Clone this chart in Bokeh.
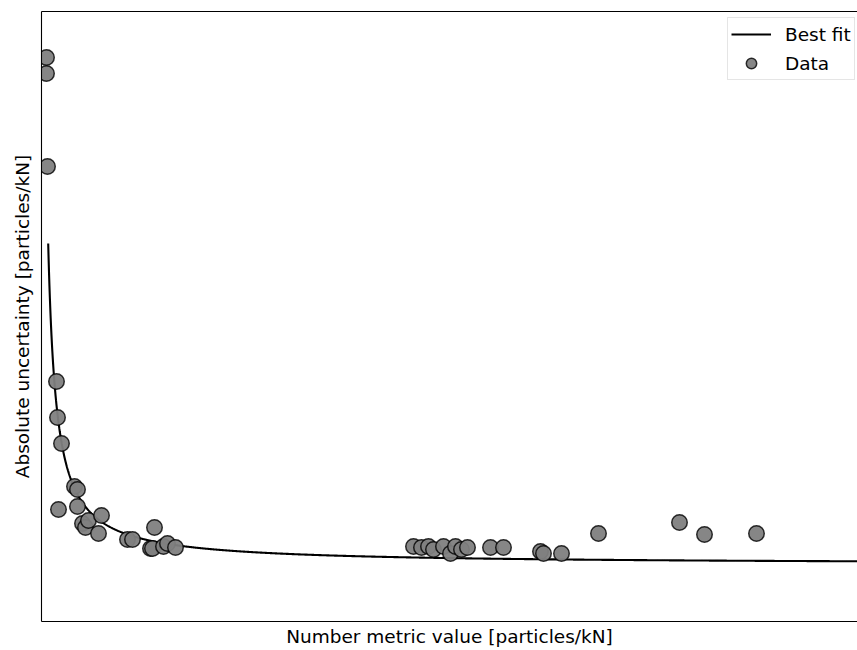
import numpy as np
from bokeh.plotting import figure
from bokeh.models import Range1d, LinearAxis, FixedTicker, Legend, LegendItem, ColumnDataSource
from bokeh.embed import file_html
from bokeh.resources import INLINE

# Data (arbitrary units; the chart shows no tick values)
metric_value = [5, 5, 6, 15, 16, 20, 17, 33, 36, 36, 41, 44, 47, 57, 60, 86, 91, 113, 109, 111, 122, 126, 134,
                372, 380, 387, 392, 402, 409, 414, 420, 426, 449, 462, 499, 502, 520,
                557, 638, 663, 715]
abs_uncertainty = [564, 548, 455, 240, 204, 178, 112, 135, 132, 115, 98, 94, 101, 88, 106, 82, 82, 94, 73, 73, 75, 78, 74,
                   75, 74, 75, 72, 75, 68, 75, 72, 74, 74, 74, 70, 68, 68,
                   88, 99, 87, 88]

# Best-fit model parameters: y = c + a / (x + b)
fit_a = 2626.0
fit_b = 1.48
fit_c = 57.0
fit_x_start = 6.7
fit_x_end = 830.0

fit_x = np.linspace(fit_x_start, fit_x_end, 2000)
fit_y = fit_c + fit_a / (fit_x + fit_b)

FONT = "DejaVu Sans"
FSIZE = "18.5px"

p = figure(width=857, height=650, output_backend="svg", toolbar_location=None,
           x_range=Range1d(0, 816), y_range=Range1d(0, 610),
           x_axis_location=None, y_axis_location=None,
           min_border_left=41, min_border_top=11, min_border_bottom=29, min_border_right=0)
p.outline_line_color = None
p.xgrid.visible = False
p.ygrid.visible = False
p.background_fill_color = "white"
p.border_fill_color = "white"

def make_axis(label=None):
    ax = LinearAxis(ticker=FixedTicker(ticks=[]))
    ax.major_tick_out = 0
    ax.major_tick_in = 0
    ax.minor_tick_out = 0
    ax.minor_tick_in = 0
    ax.major_label_text_font_size = "0px"
    ax.axis_line_color = "black"
    ax.axis_line_width = 1.1
    if label:
        ax.axis_label = label
        ax.axis_label_text_font = FONT
        ax.axis_label_text_font_style = "normal"
        ax.axis_label_text_font_size = FSIZE
        ax.axis_label_text_color = "black"
    return ax

left = make_axis("Absolute uncertainty [particles/kN]")
left.axis_label_standoff = 9
below = make_axis("Number metric value [particles/kN]")
below.axis_label_standoff = 4
above = make_axis()
p.add_layout(left, "left")
p.add_layout(below, "below")
p.add_layout(above, "above")

line_r = p.line(fit_x, fit_y, line_color="black", line_width=2.1)
src = ColumnDataSource(dict(x=metric_value, y=abs_uncertainty))
pts_r = p.scatter("x", "y", source=src, size=15.5, fill_color="#808080", fill_alpha=0.95,
                  line_color="black", line_alpha=0.8, line_width=1.5)

legend = Legend(items=[LegendItem(label="Best fit", renderers=[line_r]),
                       LegendItem(label="Data", renderers=[pts_r])],
                location=(686, 541))
legend.label_text_font = FONT
legend.label_text_font_size = FSIZE
legend.label_text_color = "black"
legend.glyph_width = 40
legend.glyph_height = 26
legend.spacing = 3
legend.padding = 3
legend.label_standoff = 14
legend.margin = 0
legend.border_line_color = "#cccccc"
legend.border_line_width = 1
legend.background_fill_color = "white"
legend.background_fill_alpha = 1.0
p.add_layout(legend)

open("out.html", "w").write(file_html(p, INLINE))
